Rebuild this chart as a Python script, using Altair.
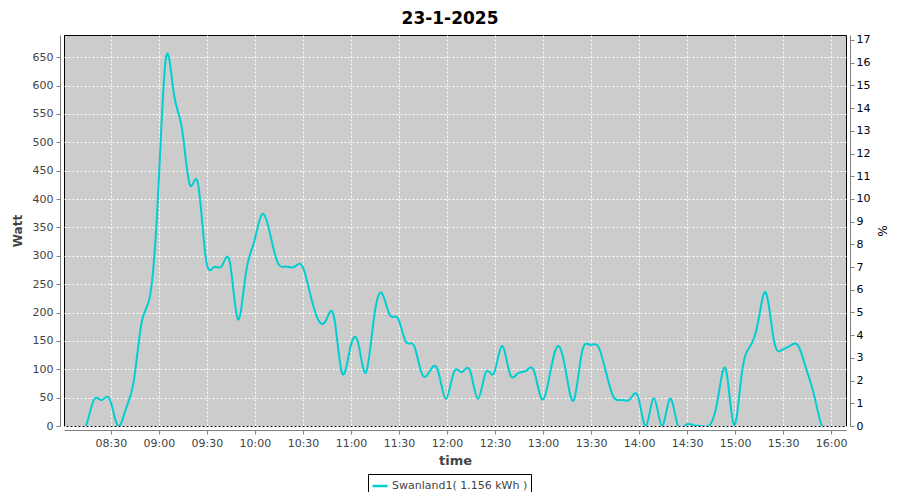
import altair as alt
import pandas as pd

chart_title = "23-1-2025"
series_name = "Swanland1( 1.156 kWh )"
day = "2025-01-23"

times = [
    "08:09", "08:14", "08:19", "08:24", "08:29", "08:34", "08:39", "08:44", "08:49", "08:54", "08:59",
    "09:04", "09:09", "09:14", "09:19", "09:24", "09:29", "09:34", "09:39", "09:44", "09:49", "09:54", "09:59",
    "10:04", "10:09", "10:14", "10:19", "10:24", "10:29", "10:34", "10:39", "10:44", "10:49", "10:54", "10:59",
    "11:04", "11:09", "11:14", "11:19", "11:24", "11:29", "11:34", "11:39", "11:44", "11:49", "11:54", "11:59",
    "12:04", "12:09", "12:14", "12:19", "12:24", "12:29", "12:34", "12:39", "12:44", "12:49", "12:54", "12:59",
    "13:04", "13:09", "13:14", "13:19", "13:24", "13:29", "13:34", "13:39", "13:44", "13:49", "13:54", "13:59",
    "14:04", "14:09", "14:14", "14:19", "14:24", "14:29", "14:34", "14:39", "14:44", "14:49", "14:54", "14:59",
    "15:04", "15:09", "15:14", "15:19", "15:24", "15:29", "15:34", "15:39", "15:44", "15:49", "15:54", "15:59",
]

watt = [
    0, 0, 46, 46, 47, 0, 30, 80, 185, 228, 400,
    648, 585, 525, 425, 428, 295, 280, 282, 288, 188, 270, 323,
    373, 340, 287, 281, 280, 283, 235, 188, 186, 193, 94, 135,
    148, 94, 190, 234, 195, 190, 148, 142, 92, 97, 98, 48,
    95, 95, 98, 48, 95, 93, 141, 92, 93, 97, 97, 47,
    92, 141, 95, 46, 130, 143, 141, 95, 50, 46, 47, 52,
    0, 49, 0, 48, 0, 2, 1, 0, 2, 49, 99, 2,
    95, 140, 182, 235, 150, 134, 141, 142, 102, 55, 0, 0,
]

x_tick_labels = ["08:30", "09:00", "09:30", "10:00", "10:30", "11:00", "11:30", "12:00",
                 "12:30", "13:00", "13:30", "14:00", "14:30", "15:00", "15:30", "16:00"]
watt_ticks = [0, 50, 100, 150, 200, 250, 300, 350, 400, 450, 500, 550, 600, 650]
pct_ticks = list(range(0, 18))

df = pd.DataFrame({
    "time": [f"{day}T{t}:20" for t in times],
    "watt": watt,
    "series": [series_name] * len(times),
})
pct_df = pd.DataFrame({"pct": pct_ticks})


def dt(hm, sec=0):
    h, m = hm.split(":")
    return alt.DateTime(year=2025, month=1, date=23, hours=int(h), minutes=int(m), seconds=sec)


x_enc = alt.X(
    "time:T",
    scale=alt.Scale(domain=[dt("08:00", 40), dt("16:09", 20)]),
    axis=alt.Axis(
        title="time", format="%H:%M", values=[dt(t) for t in x_tick_labels],
        grid=True, gridColor="white", gridDash=[2, 2], gridOpacity=1, gridWidth=1,
        offset=4, tickSize=4, labelPadding=3, titlePadding=6,
        titleFont="DejaVu Sans", titleFontSize=13, titleFontWeight="bold", titleColor="#444444",
    ),
)

line = alt.Chart(df).mark_line(interpolate="natural", strokeWidth=2, clip=True).encode(
    x=x_enc,
    y=alt.Y(
        "watt:Q",
        scale=alt.Scale(domain=[0, 689], nice=False, zero=True),
        axis=alt.Axis(
            title="Watt", values=watt_ticks,
            grid=True, gridColor="white", gridDash=[2, 2], gridOpacity=1, gridWidth=1,
            offset=4, tickSize=4, labelPadding=3, titlePadding=8,
            titleFont="DejaVu Sans", titleFontSize=12, titleFontWeight="bold", titleColor="#444444",
        ),
    ),
    color=alt.Color(
        "series:N",
        scale=alt.Scale(range=["#00CED1"]),
        legend=alt.Legend(
            title=None, orient="none", legendX=304, legendY=439,
            symbolType="stroke", symbolStrokeWidth=2.5, symbolSize=225,
            strokeColor="black", fillColor="white", padding=3, cornerRadius=0,
            labelFont="DejaVu Sans", labelFontSize=11, labelColor="#444444", labelOffset=3,
        ),
    ),
)

right = alt.Chart(pct_df).mark_point(opacity=0).encode(
    y=alt.Y(
        "pct:Q",
        scale=alt.Scale(domain=[0, 17.22], nice=False, zero=True),
        axis=alt.Axis(
            orient="right", title="%", values=pct_ticks, grid=False,
            offset=4, tickSize=4, labelPadding=2, titlePadding=5,
            labelColor="black",
            titleFont="DejaVu Sans", titleFontSize=12, titleFontWeight="normal", titleColor="black",
        ),
    ),
)

chart = alt.layer(line, right).resolve_scale(y="independent").properties(
    width=782,
    height=391,
    padding={"left": 56, "top": 27, "right": 46, "bottom": 66},
    autosize=alt.AutoSizeParams(type="none"),
    background="white",
    title=alt.TitleParams(
        text=chart_title, font="DejaVu Sans", fontSize=17, fontWeight="bold",
        color="black", anchor="middle", offset=6, dx=-5,
    ),
).configure_view(
    fill="#CCCCCC", stroke="black", strokeWidth=1
).configure_axis(
    domainColor="#808080", tickColor="#808080",
    labelFont="DejaVu Sans", labelFontSize=11, labelColor="#444444",
)

chart.save("out.html", embed_options={"renderer": "svg", "actions": False})
